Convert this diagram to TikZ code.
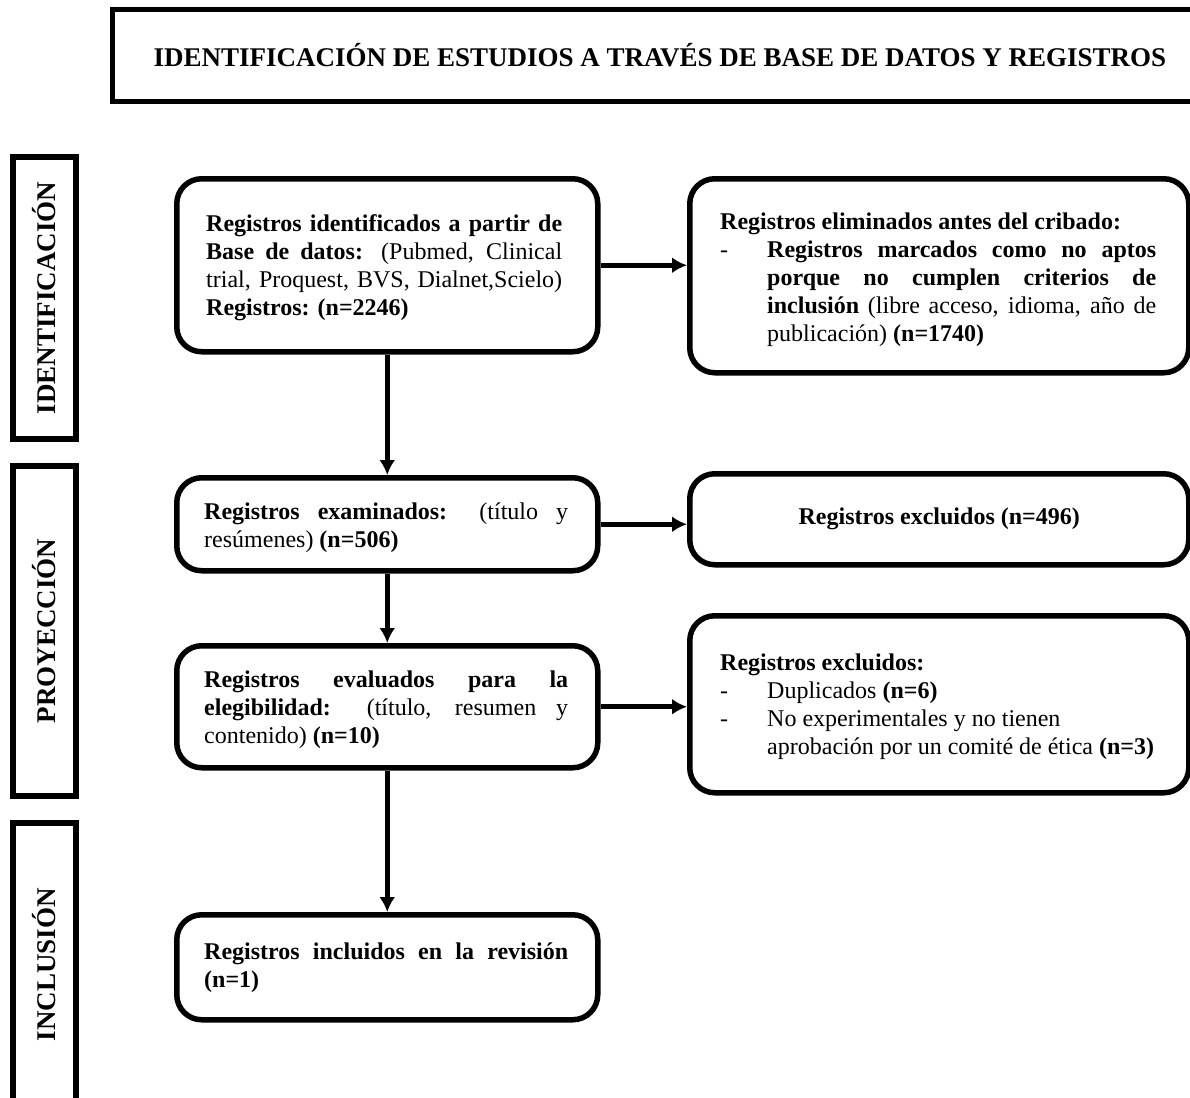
\documentclass[tikz,border=0pt]{standalone}
\usepackage{fontspec}
\usepackage{graphicx}
\setmainfont{Liberation Serif}
\usetikzlibrary{positioning, arrows.meta}
\tikzset{>=Latex}
\hyphenpenalty=10000
\tolerance=10000
\def\bodysize{\fontsize{24}{28}\selectfont}
\def\headsize{\fontsize{27}{30}\selectfont}
\def\dashind{47pt}

\begin{document}
\begin{tikzpicture}[x=1pt, y=-1pt,
  stage/.style={draw, line width=5.5pt, rounded corners=25pt, anchor=north west, inner sep=0pt},
  phase/.style={draw, line width=5.5pt, anchor=north west, inner sep=0pt, minimum width=63pt, font=\bfseries\headsize},
  body/.style={anchor=north west, inner sep=0pt, align=justify, font=\bodysize},
  flow/.style={-{Latex[length=15pt, width=16pt]}, line width=5pt}]

\useasboundingbox (0,0) rectangle (1190,1097);

% Title
\node[draw, line width=5pt, anchor=north west, minimum width=1095pt, minimum height=92pt, inner sep=0pt, font=\bfseries\headsize] (title) at (110,7) {IDENTIFICACIÓN DE ESTUDIOS A TRAVÉS DE BASE DE DATOS Y REGISTROS};

% Phases
\node[phase, minimum height=282pt] (phident) at (10,154) {\rotatebox{90}{IDENTIFICACIÓN}};
\node[phase, minimum height=330pt] (phproj) at (10,463) {\rotatebox{90}{PROYECCIÓN}};
\node[phase, minimum height=284pt] (phincl) at (10,820) {\rotatebox{90}{INCLUSIÓN}};

% Boxes, left column
\node[stage, minimum width=421pt, minimum height=173pt] (ident) at (174,176) {};
\node[stage, minimum width=421pt, minimum height=93pt] (exam) at (174,475) {};
\node[stage, minimum width=421pt, minimum height=122pt] (eval) at (174,643) {};
\node[stage, minimum width=421pt, minimum height=105pt] (incl) at (174,912) {};

% Boxes, right column
\node[stage, minimum width=499pt, minimum height=194pt] (elim) at (687,176) {};
\node[stage, minimum width=499pt, minimum height=91pt, font=\bfseries\bodysize] (excl) at (687,471) {Registros excluidos (n=496)};
\node[stage, minimum width=499pt, minimum height=177pt] (descart) at (687,613) {};

% Texts
\node[body, text width=356pt] (identtxt) at (206,214) {\textbf{Registros identificados a partir de}\linebreak
  \textbf{Base de datos:} (Pubmed, Clinical\linebreak
  trial, Proquest, BVS, Dialnet,Scielo)\linebreak
  \textbf{Registros: (n=2246)}};
\node[body, text width=436pt] (elimtxt) at (720,213) {\textbf{Registros eliminados antes del cribado:}\\
  \makebox[\dashind][l]{-}\parbox[t]{389pt}{\textbf{Registros marcados como no aptos}\linebreak
  \textbf{porque no cumplen criterios de}\linebreak
  \textbf{inclusión} (libre acceso, idioma, año de\linebreak
  publicación) \textbf{(n=1740)}}};
\node[body, text width=364pt] (examtxt) at (204,503) {\textbf{Registros examinados:} (título y\linebreak
  resúmenes) \textbf{(n=506)}};
\node[body, text width=364pt] (evaltxt) at (204,671) {\textbf{Registros evaluados para la}\linebreak
  \textbf{elegibilidad:} (título, resumen y\linebreak
  contenido) \textbf{(n=10)}};
\node[body, align=left] (descarttxt) at (720,654) {\textbf{Registros excluidos:}\\
  \makebox[\dashind][l]{-}Duplicados \textbf{(n=6)}\\
  \makebox[\dashind][l]{-}No experimentales y no tienen\\
  \hspace*{\dashind}aprobación por un comité de ética \textbf{(n=3)}};
\node[body, text width=364pt] (incltxt) at (204,943) {\textbf{Registros incluidos en la revisión}\linebreak
  \textbf{(n=1)}};

% Arrows
\draw[flow] (ident) -- (exam);
\draw[flow] (exam) -- (eval);
\draw[flow] (eval) -- (incl);
\draw[flow] (ident.east) -- (ident.east -| elim.west);
\draw[flow] (exam.east) -- (exam.east -| excl.west);
\draw[flow] (eval.east) -- (eval.east -| descart.west);

\end{tikzpicture}
\end{document}
